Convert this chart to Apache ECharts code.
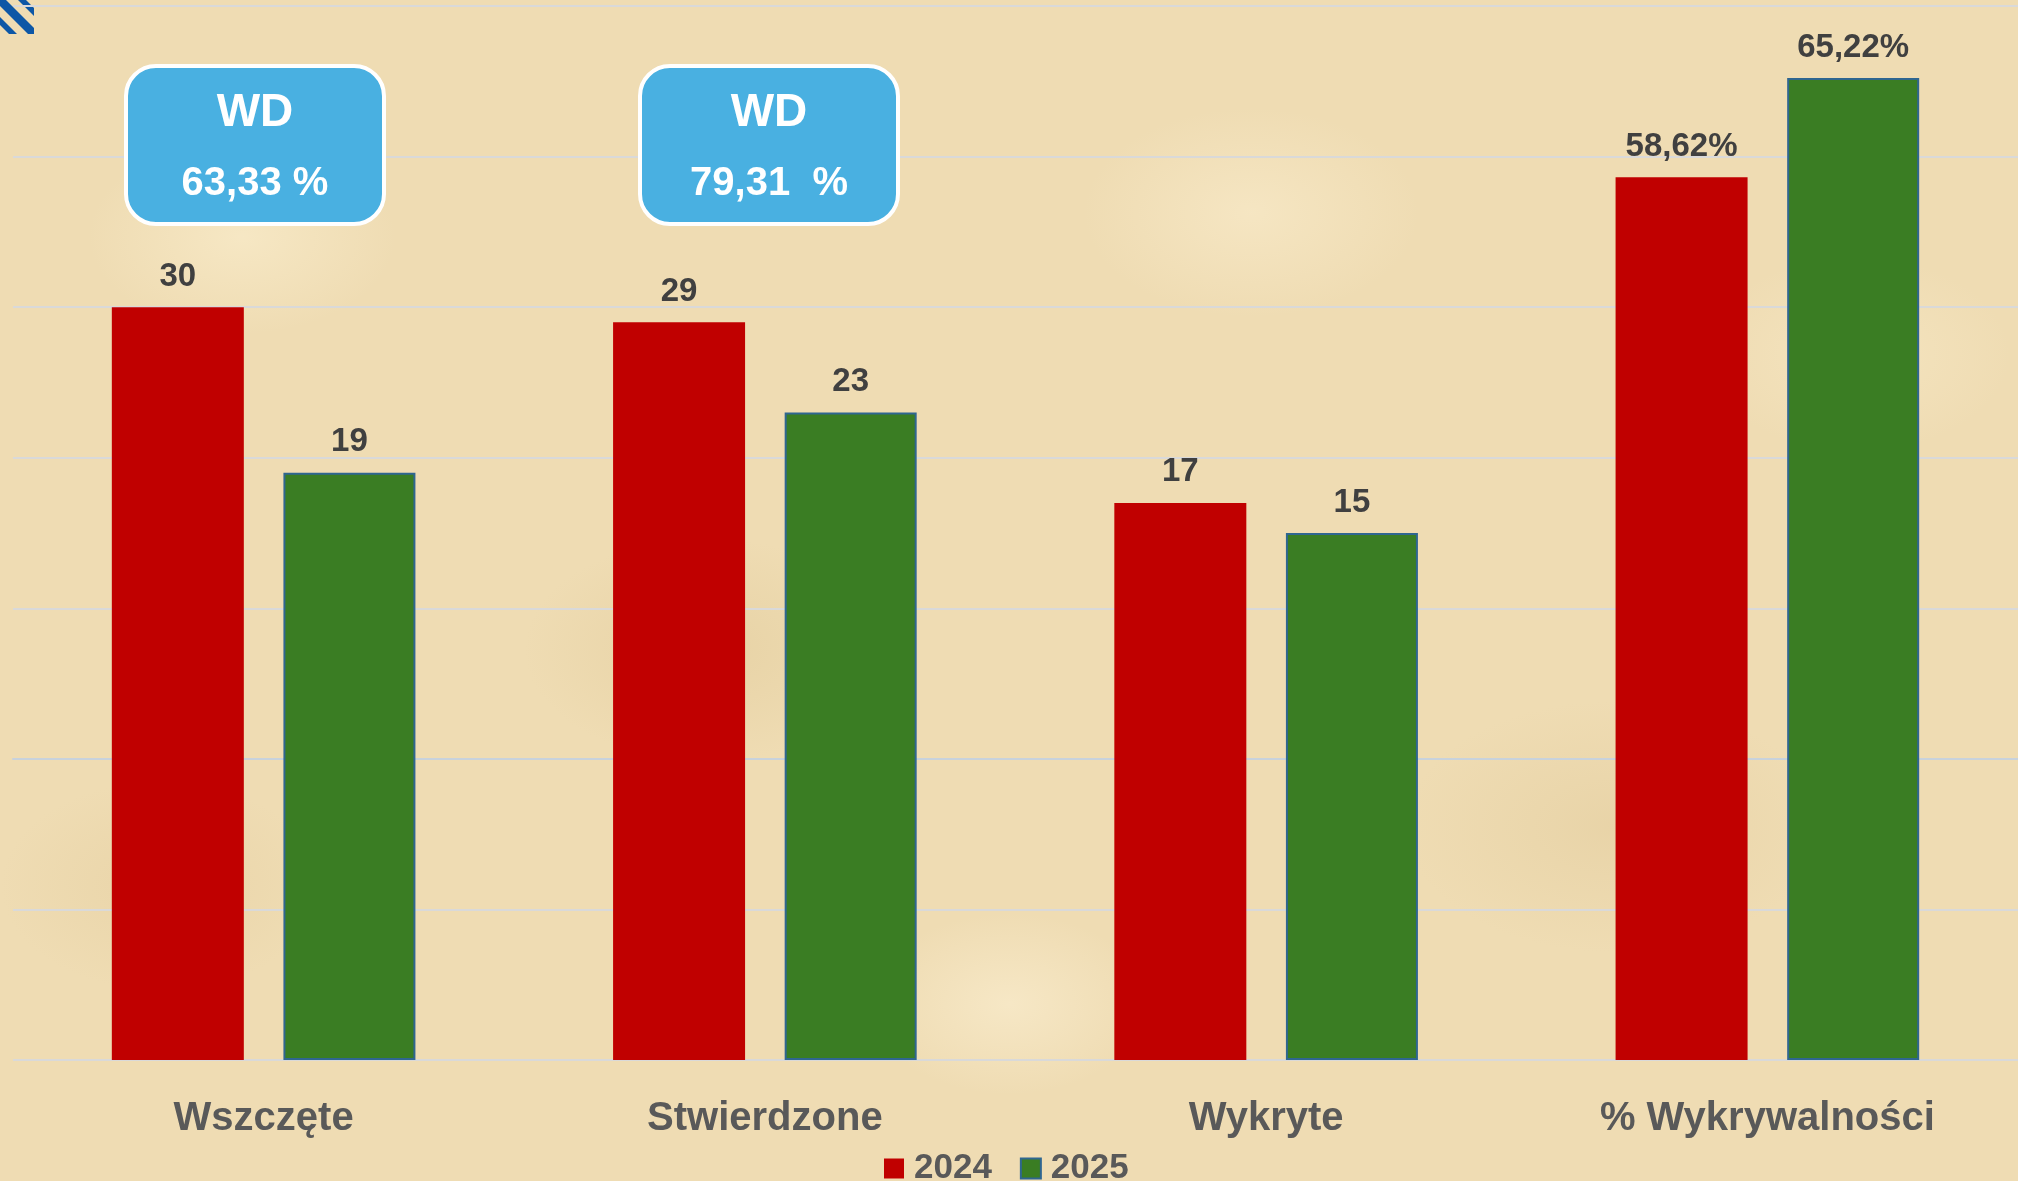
<!DOCTYPE html>
<html>
<head>
<meta charset="utf-8">
<script src="https://cdn.jsdelivr.net/npm/echarts@6/dist/echarts.min.js"></script>
<style>
  html, body { margin: 0; padding: 0; }
  body {
    width: 2018px; height: 1181px; overflow: hidden;
    background-color: #efdcb3;
    background-image:
      radial-gradient(ellipse 220px 140px at 12% 20%, rgba(248,234,200,0.8), rgba(248,234,200,0) 70%),
      radial-gradient(ellipse 260px 160px at 35% 55%, rgba(226,204,156,0.6), rgba(226,204,156,0) 70%),
      radial-gradient(ellipse 240px 150px at 62% 18%, rgba(247,232,198,0.8), rgba(247,232,198,0) 70%),
      radial-gradient(ellipse 300px 180px at 80% 70%, rgba(228,206,160,0.6), rgba(228,206,160,0) 70%),
      radial-gradient(ellipse 200px 130px at 50% 85%, rgba(248,234,202,0.8), rgba(248,234,202,0) 70%),
      radial-gradient(ellipse 230px 150px at 8% 75%, rgba(230,208,162,0.6), rgba(230,208,162,0) 70%),
      radial-gradient(ellipse 220px 140px at 92% 30%, rgba(246,230,194,0.8), rgba(246,230,194,0) 70%);
  }
  #chart { width: 2018px; height: 1181px; }
</style>
</head>
<body>
<div id="chart"></div>
<script>
// dane
const categories = ['Wszczęte', 'Stwierdzone', 'Wykryte', '% Wykrywalności']
const counts2024 = [30, 29, 17, '-']
const counts2025 = [19, 23, 15, '-']
const pct2024 = ['-', '-', '-', 58.62]
const pct2025 = ['-', '-', '-', 65.22]
const wdBoxes = [
  { label: 'WD', value: '63,33 %' },
  { label: 'WD', value: '79,31  %' }
]

const RED = '#c00000'
const GREEN = '#3a7d23'
const GREEN_BORDER = '#2f6690'

const chart = echarts.init(document.getElementById('chart'))

const countLabel = {
  show: true,
  position: 'top',
  distance: 14,
  color: '#404040',
  fontFamily: 'Liberation Sans',
  fontWeight: 'bold',
  fontSize: 33
}
const pctLabel = Object.assign({}, countLabel, {
  formatter: (p) => p.value.toFixed(2).replace('.', ',') + '%'
})

// ramki WD
function wdBox(x, box) {
  return {
    type: 'group',
    left: x,
    top: 64,
    children: [
      {
        type: 'rect',
        z: 100,
        shape: { x: 0, y: 0, width: 258, height: 158, r: 30 },
        style: { fill: '#49b0e1', stroke: '#ffffff', lineWidth: 4 }
      },
      {
        type: 'text',
        z: 101,
        x: 129, y: 47,
        style: {
          text: box.label, fill: '#ffffff', align: 'center', verticalAlign: 'middle',
          font: 'bold 46px "Liberation Sans"'
        }
      },
      {
        type: 'text',
        z: 101,
        x: 129, y: 118,
        style: {
          text: box.value, fill: '#ffffff', align: 'center', verticalAlign: 'middle',
          font: 'bold 40px "Liberation Sans"'
        }
      }
    ]
  }
}

const option = {
  backgroundColor: 'transparent',
  animation: false,
  grid: { left: 13, right: 0, top: 6, bottom: 121 },
  legend: {
    data: ['2024', '2025'],
    bottom: -10,
    left: 879,
    icon: 'rect',
    itemWidth: 20,
    itemHeight: 20,
    itemGap: 28,
    textStyle: {
      color: '#595959',
      fontFamily: 'Liberation Sans',
      fontWeight: 'bold',
      fontSize: 35,
      padding: [0, 0, 0, 5]
    }
  },
  xAxis: [
    {
      type: 'category',
      position: 'bottom',
      data: categories,
      axisTick: { show: false },
      axisLine: { lineStyle: { color: '#c8d2dc', width: 2 } },
      axisLabel: {
        margin: 39,
        color: '#595959',
        fontFamily: 'Liberation Sans',
        fontWeight: 'bold',
        fontSize: 40
      }
    },
    {
      type: 'category',
      position: 'top',
      data: categories,
      show: false
    }
  ],
  yAxis: [
    {
      type: 'value',
      min: -20,
      max: 50,
      interval: 10,
      startValue: -20,
      axisLabel: { show: false },
      axisLine: { show: false },
      axisTick: { show: false },
      splitLine: { lineStyle: { color: '#d9d9d9', width: 2 } }
    },
    {
      type: 'value',
      min: 0,
      max: 70,
      interval: 10,
      show: false,
      splitLine: { show: false }
    }
  ],
  series: [
    {
      name: '2024', type: 'bar', xAxisIndex: 0, yAxisIndex: 0,
      data: counts2024, barWidth: 132, barGap: '30%',
      itemStyle: { color: RED },
      label: countLabel
    },
    {
      name: '2025', type: 'bar', xAxisIndex: 0, yAxisIndex: 0,
      data: counts2025, barWidth: 132, barGap: '30%',
      itemStyle: { color: GREEN, borderColor: GREEN_BORDER, borderWidth: 2 },
      label: countLabel
    },
    {
      name: '2024', type: 'bar', xAxisIndex: 1, yAxisIndex: 1,
      data: pct2024, barWidth: 132, barGap: '30%',
      itemStyle: { color: RED },
      label: pctLabel
    },
    {
      name: '2025', type: 'bar', xAxisIndex: 1, yAxisIndex: 1,
      data: pct2025, barWidth: 132, barGap: '30%',
      itemStyle: { color: GREEN, borderColor: GREEN_BORDER, borderWidth: 2 },
      label: pctLabel
    }
  ],
  graphic: [
    // fragment logo w rogu
    {
      type: 'group',
      left: 0, top: 0,
      children: [
        { type: 'polygon', shape: { points: [[0, 0], [6, 0], [34, 28], [34, 34], [28, 34], [0, 6]] }, style: { fill: '#0d57a6' } },
        { type: 'polygon', shape: { points: [[0, 17], [17, 34], [9, 34], [0, 25]] }, style: { fill: '#0d57a6' } },
        { type: 'polygon', shape: { points: [[18, 0], [26, 0], [34, 8], [34, 16]] }, style: { fill: '#0d57a6' } }
      ]
    },
    wdBox(124, wdBoxes[0]),
    wdBox(638, wdBoxes[1])
  ]
}

chart.setOption(option)
</script>
</body>
</html>
